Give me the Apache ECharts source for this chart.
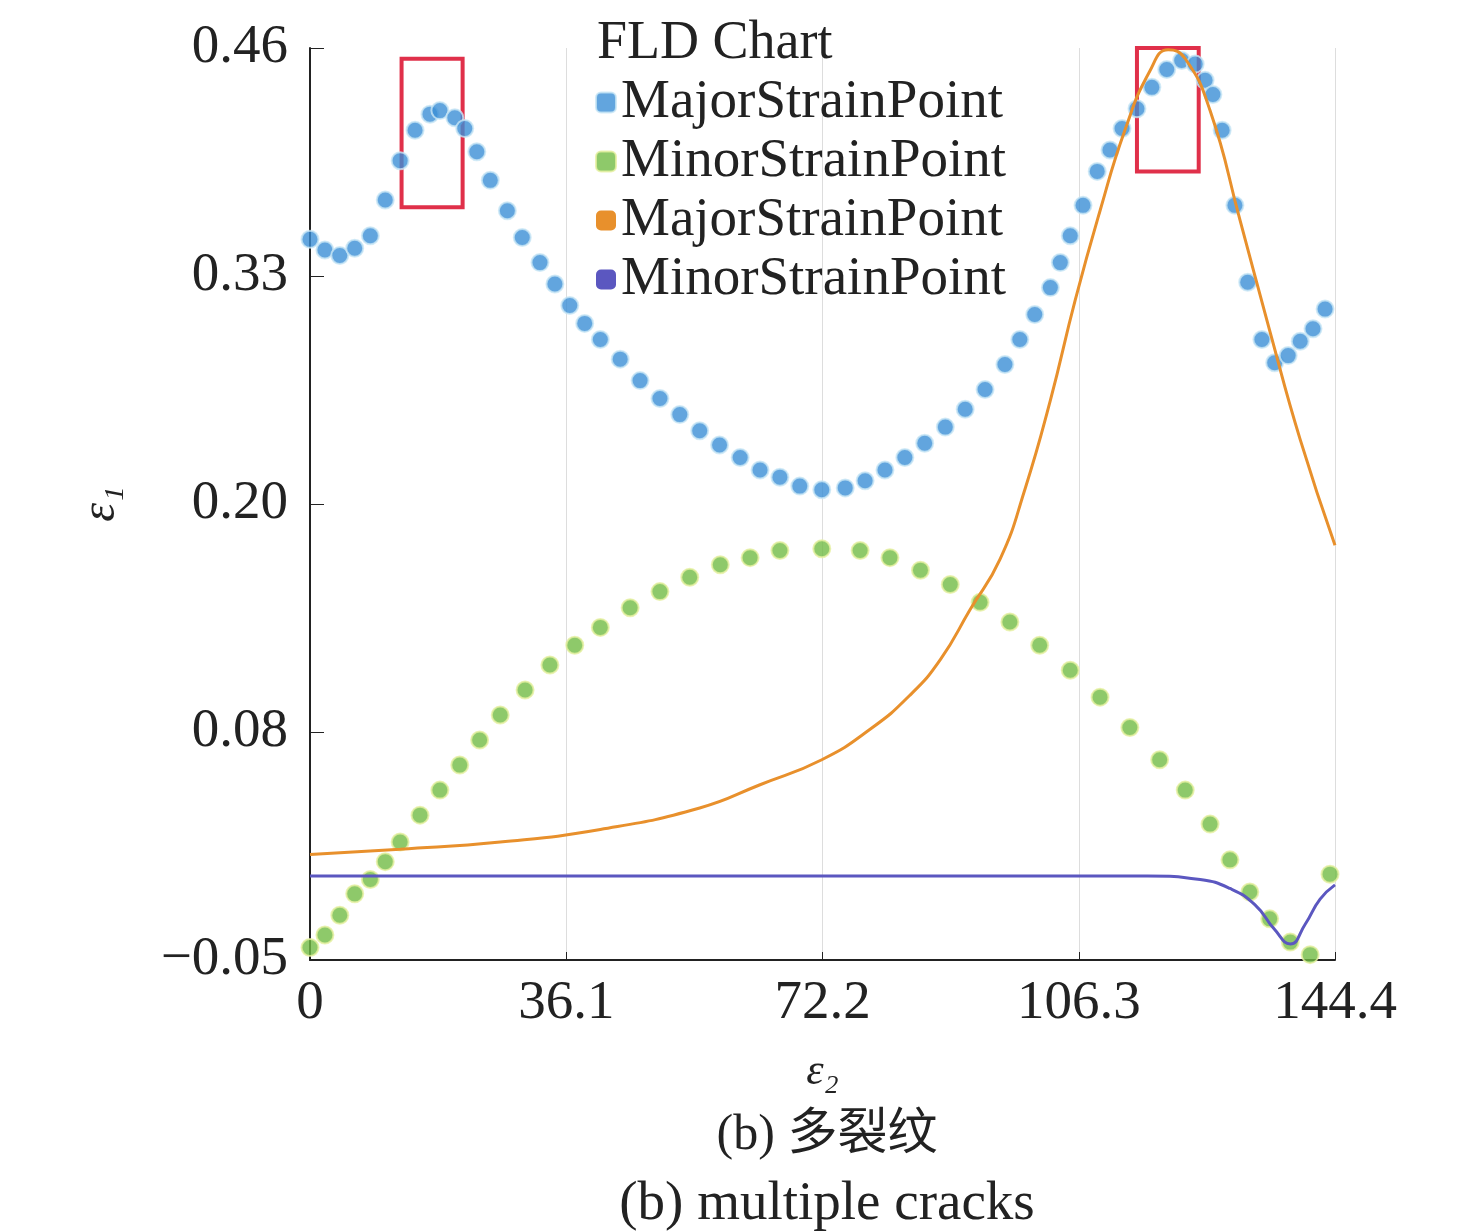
<!DOCTYPE html>
<html><head><meta charset="utf-8">
<script src="https://cdn.jsdelivr.net/npm/echarts@6/dist/echarts.min.js"></script>
<style>html,body{margin:0;padding:0;background:#fff}#c{width:1476px;height:1232px}</style>
</head><body><div id="c"></div>
<script>
const xTickValues=[0,36.1,72.2,108.3,144.4];
const xTickLabels=['0','36.1','72.2','106.3','144.4'];
const yTickValues=[-0.05,0.0775,0.205,0.3325,0.46];
const yTickLabels=['\u22120.05','0.08','0.20','0.33','0.46'];
const majorPoints=[[0,0.353],[2.1,0.347],[4.2,0.344],[6.3,0.348],[8.5,0.355],[10.6,0.375],[12.7,0.397],[14.8,0.414],[16.9,0.423],[18.3,0.425],[20.4,0.421],[21.8,0.415],[23.5,0.402],[25.4,0.386],[27.8,0.369],[29.9,0.354],[32.4,0.340],[34.5,0.328],[36.6,0.316],[38.7,0.306],[40.9,0.297],[43.7,0.286],[46.5,0.274],[49.3,0.264],[52.1,0.255],[54.9,0.246],[57.7,0.238],[60.6,0.231],[63.4,0.224],[66.2,0.220],[69.0,0.215],[72.1,0.213],[75.4,0.214],[78.2,0.218],[81.0,0.224],[83.8,0.231],[86.6,0.239],[89.5,0.248],[92.3,0.258],[95.1,0.269],[97.9,0.283],[100.0,0.297],[102.1,0.311],[104.3,0.326],[105.7,0.340],[107.1,0.355],[108.9,0.372],[110.9,0.391],[112.7,0.403],[114.4,0.415],[116.5,0.426],[118.6,0.438],[120.7,0.448],[122.8,0.453],[124.7,0.451],[126.1,0.442],[127.2,0.434],[128.5,0.414],[130.3,0.372],[132.1,0.329],[134.1,0.297],[135.9,0.284],[137.8,0.288],[139.5,0.296],[141.3,0.303],[143.0,0.314]];
const minorPoints=[[0,-0.043],[2.1,-0.036],[4.2,-0.025],[6.3,-0.013],[8.5,-0.005],[10.6,0.005],[12.7,0.016],[15.5,0.031],[18.3,0.045],[21.1,0.059],[23.9,0.073],[26.8,0.087],[30.3,0.101],[33.8,0.115],[37.3,0.126],[40.9,0.136],[45.1,0.147],[49.3,0.156],[53.5,0.164],[57.8,0.171],[62.0,0.175],[66.2,0.179],[72.1,0.180],[77.5,0.179],[81.7,0.175],[86.0,0.168],[90.2,0.160],[94.4,0.150],[98.6,0.139],[102.8,0.126],[107.1,0.112],[111.3,0.097],[115.5,0.080],[119.7,0.062],[123.3,0.045],[126.8,0.026],[129.6,0.006],[132.4,-0.012],[135.2,-0.027],[138.1,-0.040],[140.9,-0.047],[143.7,-0.002]];
const majorLine=[[0,0.009],[12.7,0.012],[26.8,0.016],[40.9,0.023],[54.9,0.035],[63.4,0.048],[72.1,0.062],[78.9,0.079],[84.5,0.098],[88.8,0.118],[93.0,0.146],[97.2,0.174],[100.7,0.213],[104.3,0.263],[107.8,0.319],[111.3,0.369],[114.8,0.414],[118.3,0.447],[120.9,0.459],[123.3,0.454],[126.8,0.425],[131.0,0.364],[135.2,0.302],[139.5,0.241],[144.4,0.182]];
const minorLine=[[0,-0.003],[40,-0.003],[80,-0.003],[118,-0.003],[125.4,-0.005],[129.6,-0.010],[133.1,-0.019],[135.9,-0.033],[138.1,-0.041],[140.2,-0.030],[142.3,-0.016],[144.4,-0.008]];
const boxes=[[[12.9,0.454],[21.5,0.371]],[[116.5,0.4745],[125.2,0.391]]];
const F='Liberation Serif';
const chart=echarts.init(document.getElementById('c'));
chart.setOption({
 animation:false,
 grid:{left:310,right:141,top:48,bottom:272},
 title:[{text:'(b) 多裂纹',left:822,top:1106,textAlign:'center',textStyle:{fontFamily:F+', Noto Sans CJK SC',fontSize:50,fontWeight:'normal',color:'#222'}},
        {text:'(b) multiple cracks',left:822,top:1172,textAlign:'center',textStyle:{fontFamily:F,fontSize:55,fontWeight:'normal',color:'#222'}},
        {text:'FLD Chart',left:592,top:12,textStyle:{fontFamily:F,fontSize:54,fontWeight:'normal',color:'#222'}}],
 legend:{orient:'vertical',left:590,top:70,itemGap:4,itemWidth:20,itemHeight:20,
   textStyle:{fontFamily:F,fontSize:55,color:'#222'},
   data:[{name:'MajorStrainPoint',icon:'roundRect'},{name:'MinorStrainPoint',icon:'roundRect'},{name:'MajorStrainPoint ',icon:'roundRect'},{name:'MinorStrainPoint ',icon:'roundRect'}],
   formatter:n=>n.trim()},
 xAxis:{type:'value',min:0,max:144.4,name:'ε₂',nameLocation:'middle',nameGap:90,
   nameTextStyle:{fontFamily:F,fontSize:44,fontStyle:'italic',color:'#222'},
   axisLine:{onZero:false,lineStyle:{color:'#222',width:2}},axisTick:{show:true,customValues:xTickValues,inside:true,length:8,lineStyle:{color:'#222'}},
   axisLabel:{customValues:xTickValues,formatter:v=>xTickLabels[xTickValues.indexOf(v)],fontFamily:F,fontSize:55,color:'#222',margin:16},
   splitLine:{show:true,lineStyle:{color:'#ddd',width:1}}},
 yAxis:{type:'value',min:-0.05,max:0.46,name:'ε₁',nameLocation:'middle',nameGap:185,nameRotate:90,
   nameTextStyle:{fontFamily:F,fontSize:48,fontStyle:'italic',color:'#222'},
   axisLine:{show:true,lineStyle:{color:'#222',width:2}},axisTick:{show:true,customValues:yTickValues,inside:true,length:14,lineStyle:{color:'#222'}},
   axisLabel:{customValues:yTickValues,formatter:v=>yTickLabels[yTickValues.indexOf(v)],fontFamily:F,fontSize:55,color:'#222',margin:22},
   splitLine:{show:false}},
 series:[
  {name:'MajorStrainPoint',type:'scatter',data:majorPoints,symbolSize:17,clip:false,
   itemStyle:{color:'#3b8ed6',borderColor:'#c8e6f5',borderWidth:2},
   markArea:{silent:true,itemStyle:{color:'rgba(0,0,0,0)',borderColor:'#e0304a',borderWidth:4},
     data:boxes.map(b=>[{coord:b[0]},{coord:b[1]}])}},
  {name:'MinorStrainPoint',type:'scatter',data:minorPoints,symbolSize:17,clip:false,
   itemStyle:{color:'#72bb45',borderColor:'#e6f0a0',borderWidth:2}},
  {name:'MajorStrainPoint ',type:'line',data:majorLine,smooth:true,showSymbol:false,
   lineStyle:{color:'#e8902c',width:3},itemStyle:{color:'#e8902c'}},
  {name:'MinorStrainPoint ',type:'line',data:minorLine,smooth:true,showSymbol:false,
   lineStyle:{color:'#5b57c0',width:3},itemStyle:{color:'#5b57c0'}}
 ]
});
</script></body></html>
